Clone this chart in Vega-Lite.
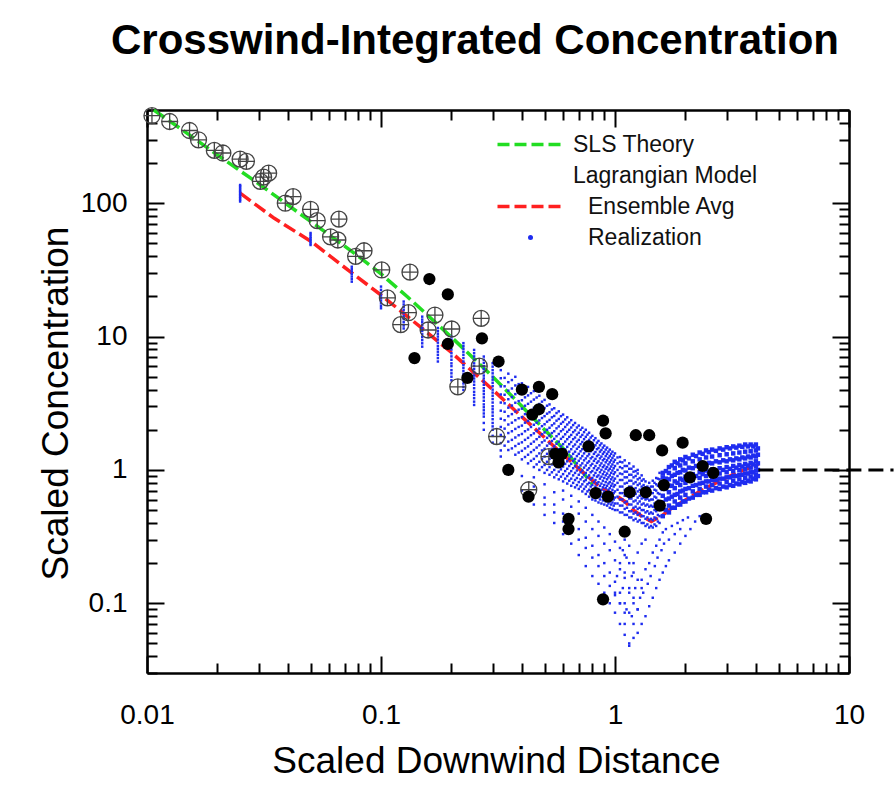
{
"$schema": "https://vega.github.io/schema/vega-lite/v6.json",
"width": 702, "height": 563,
"autosize": {"type": "none"},
"padding": {"left": 147, "top": 110, "right": 47, "bottom": 115},
"background": "white",
"title": {"text": "Crosswind-Integrated Concentration", "font": "Liberation Sans", "fontSize": 42, "fontWeight": "bold", "color": "#000", "anchor": "middle", "frame": "group", "dx": -23, "offset": 0, "baseline": "alphabetic"},
"config": {
 "view": {"stroke": null},
 "axis": {"labelFont": "Liberation Sans", "labelFontSize": 28, "labelColor": "#000", "domainColor": "#000", "domainWidth": 2.5, "tickColor": "#000", "tickWidth": 2, "grid": false, "titleFont": "Liberation Sans", "titleFontSize": 37, "titleFontWeight": "normal", "titleColor": "#000", "labelFlush": false, "labelOverlap": false}
},
"datasets": {
 "lines": [
  {"series":"SLS Theory","x":0.0107,"y":500},{"series":"SLS Theory","x":0.015,"y":330},{"series":"SLS Theory","x":0.02,"y":230},{"series":"SLS Theory","x":0.03,"y":140},{"series":"SLS Theory","x":0.04,"y":97},{"series":"SLS Theory","x":0.05,"y":73},{"series":"SLS Theory","x":0.06,"y":58},{"series":"SLS Theory","x":0.08,"y":40},{"series":"SLS Theory","x":0.1,"y":29.5},{"series":"SLS Theory","x":0.13,"y":19.8},{"series":"SLS Theory","x":0.16,"y":14.2},{"series":"SLS Theory","x":0.2,"y":9.9},{"series":"SLS Theory","x":0.25,"y":6.8},{"series":"SLS Theory","x":0.3,"y":5.0},{"series":"SLS Theory","x":0.4,"y":3.0},{"series":"SLS Theory","x":0.5,"y":2.0},{"series":"SLS Theory","x":0.6,"y":1.45},{"series":"SLS Theory","x":0.7,"y":1.05},{"series":"SLS Theory","x":0.8,"y":0.78},
  {"series":"Ensemble Avg","x":0.025,"y":119},{"series":"Ensemble Avg","x":0.035,"y":77},{"series":"Ensemble Avg","x":0.05,"y":52},{"series":"Ensemble Avg","x":0.075,"y":30},{"series":"Ensemble Avg","x":0.1,"y":20.5},{"series":"Ensemble Avg","x":0.15,"y":11.5},{"series":"Ensemble Avg","x":0.2,"y":7.6},{"series":"Ensemble Avg","x":0.3,"y":4.0},{"series":"Ensemble Avg","x":0.4,"y":2.5},{"series":"Ensemble Avg","x":0.5,"y":1.75},{"series":"Ensemble Avg","x":0.57,"y":1.41},{"series":"Ensemble Avg","x":0.65,"y":1.15},{"series":"Ensemble Avg","x":0.75,"y":0.92},{"series":"Ensemble Avg","x":0.85,"y":0.76},{"series":"Ensemble Avg","x":0.9,"y":0.71},{"series":"Ensemble Avg","x":1.0,"y":0.65},{"series":"Ensemble Avg","x":1.1,"y":0.58},{"series":"Ensemble Avg","x":1.2,"y":0.5},{"series":"Ensemble Avg","x":1.3,"y":0.45},{"series":"Ensemble Avg","x":1.43,"y":0.41},{"series":"Ensemble Avg","x":1.5,"y":0.43},{"series":"Ensemble Avg","x":1.58,"y":0.45},{"series":"Ensemble Avg","x":1.7,"y":0.5},{"series":"Ensemble Avg","x":1.86,"y":0.55},{"series":"Ensemble Avg","x":2.2,"y":0.66},{"series":"Ensemble Avg","x":2.7,"y":0.8},{"series":"Ensemble Avg","x":3.3,"y":0.95},{"series":"Ensemble Avg","x":4.1,"y":1.1}
 ],
 "ref": [{"x":4.1,"y":1},{"x":15.5,"y":1}],
 "real": [
  {"x":0.025,"y":103},{"x":0.025,"y":106},{"x":0.025,"y":109},{"x":0.025,"y":112},{"x":0.025,"y":115},{"x":0.025,"y":118},{"x":0.025,"y":121},{"x":0.025,"y":124},{"x":0.025,"y":127},{"x":0.025,"y":131},{"x":0.025,"y":134},{"x":0.025,"y":137},
  {"x":0.05,"y":48.6},{"x":0.05,"y":50},{"x":0.05,"y":51.5},{"x":0.05,"y":53},{"x":0.05,"y":54.5},{"x":0.05,"y":56},{"x":0.05,"y":58},{"x":0.05,"y":59.8},
  {"x":0.075,"y":25.8},{"x":0.075,"y":27},{"x":0.075,"y":28.2},{"x":0.075,"y":29.5},{"x":0.075,"y":30.8},{"x":0.075,"y":32},{"x":0.075,"y":33.4},
  {"x":0.1,"y":16.3},{"x":0.1,"y":17},{"x":0.1,"y":17.8},{"x":0.1,"y":18.6},{"x":0.1,"y":19.4},{"x":0.1,"y":20.3},{"x":0.1,"y":21.2},{"x":0.1,"y":22.4},{"x":0.1,"y":23.7},
  {"x":0.125,"y":11.5},{"x":0.125,"y":12.1},{"x":0.125,"y":12.8},{"x":0.125,"y":13.5},{"x":0.125,"y":14.2},{"x":0.125,"y":15},{"x":0.125,"y":15.8},{"x":0.125,"y":16.6},{"x":0.125,"y":17.4},{"x":0.125,"y":18.3},
  {"x":0.15,"y":8.4},{"x":0.15,"y":8.9},{"x":0.15,"y":9.4},{"x":0.15,"y":9.9},{"x":0.15,"y":10.4},{"x":0.15,"y":11},{"x":0.15,"y":11.6},{"x":0.15,"y":12.2},{"x":0.15,"y":12.8},{"x":0.15,"y":13.4},{"x":0.15,"y":14.1},
  {"x":0.175,"y":6.5},{"x":0.175,"y":6.9},{"x":0.175,"y":7.3},{"x":0.175,"y":7.7},{"x":0.175,"y":8.1},{"x":0.175,"y":8.5},{"x":0.175,"y":9},{"x":0.175,"y":9.5},{"x":0.175,"y":10},{"x":0.175,"y":10.5},{"x":0.175,"y":11},{"x":0.175,"y":11.6},
  {"x":0.2,"y":4.7},{"x":0.2,"y":5},{"x":0.2,"y":5.3},{"x":0.2,"y":5.6},{"x":0.2,"y":6},{"x":0.2,"y":6.3},{"x":0.2,"y":6.7},{"x":0.2,"y":7.1},{"x":0.2,"y":7.5},{"x":0.2,"y":8},{"x":0.2,"y":8.5},{"x":0.2,"y":9},{"x":0.2,"y":9.5},{"x":0.2,"y":10},
  {"x":0.225,"y":3.98},{"x":0.225,"y":4.2},{"x":0.225,"y":4.45},{"x":0.225,"y":4.7},{"x":0.225,"y":4.95},{"x":0.225,"y":5.2},{"x":0.225,"y":5.5},{"x":0.225,"y":5.8},{"x":0.225,"y":6.1},{"x":0.225,"y":6.5},{"x":0.225,"y":6.9},{"x":0.225,"y":7.3},{"x":0.225,"y":7.7},{"x":0.225,"y":8.1},{"x":0.225,"y":8.5},{"x":0.225,"y":8.93},
  {"x":0.25,"y":3.07},{"x":0.25,"y":3.25},{"x":0.25,"y":3.45},{"x":0.25,"y":3.65},{"x":0.25,"y":3.85},{"x":0.25,"y":4.1},{"x":0.25,"y":4.35},{"x":0.25,"y":4.6},{"x":0.25,"y":4.85},{"x":0.25,"y":5.1},{"x":0.25,"y":5.4},{"x":0.25,"y":5.7},{"x":0.25,"y":6},{"x":0.25,"y":6.3},{"x":0.25,"y":6.7},{"x":0.25,"y":7.1},{"x":0.25,"y":7.5},{"x":0.25,"y":7.94},
  {"x":0.275,"y":2},{"x":0.275,"y":2.25},{"x":0.275,"y":2.51},{"x":0.275,"y":2.65},{"x":0.275,"y":2.8},{"x":0.275,"y":2.95},{"x":0.275,"y":3.1},{"x":0.275,"y":3.3},{"x":0.275,"y":3.5},{"x":0.275,"y":3.7},{"x":0.275,"y":3.9},{"x":0.275,"y":4.1},{"x":0.275,"y":4.35},{"x":0.275,"y":4.6},{"x":0.275,"y":4.85},{"x":0.275,"y":5.1},{"x":0.275,"y":5.4},{"x":0.275,"y":5.7},{"x":0.275,"y":6},{"x":0.275,"y":6.35},{"x":0.275,"y":6.7},{"x":0.275,"y":7.08},
  {"x":0.3,"y":1.6},{"x":0.3,"y":1.8},{"x":0.3,"y":2},{"x":0.3,"y":2.12},{"x":0.3,"y":2.25},{"x":0.3,"y":2.4},{"x":0.3,"y":2.55},{"x":0.3,"y":2.7},{"x":0.3,"y":2.85},{"x":0.3,"y":3},{"x":0.3,"y":3.2},{"x":0.3,"y":3.4},{"x":0.3,"y":3.6},{"x":0.3,"y":3.8},{"x":0.3,"y":4},{"x":0.3,"y":4.25},{"x":0.3,"y":4.5},{"x":0.3,"y":4.75},{"x":0.3,"y":5},{"x":0.3,"y":5.3},{"x":0.3,"y":5.6},{"x":0.3,"y":5.95},{"x":0.3,"y":6.31},
  {"x":0.325,"y":1.26},{"x":0.325,"y":1.4},{"x":0.325,"y":1.59},{"x":0.325,"y":1.83},{"x":0.325,"y":2.1},{"x":0.325,"y":2.42},{"x":0.325,"y":2.78},{"x":0.325,"y":3.2},{"x":0.325,"y":3.68},{"x":0.325,"y":4.23},{"x":0.325,"y":4.87},{"x":0.325,"y":5.6},
  {"x":0.3375,"y":1.52},{"x":0.3375,"y":1.76},{"x":0.3375,"y":2.04},{"x":0.3375,"y":2.36},{"x":0.3375,"y":2.73},{"x":0.3375,"y":3.16},{"x":0.3375,"y":3.66},{"x":0.3375,"y":4.24},{"x":0.3375,"y":4.9},
  {"x":0.35,"y":1.41},{"x":0.35,"y":1.63},{"x":0.35,"y":1.89},{"x":0.35,"y":2.19},{"x":0.35,"y":2.53},{"x":0.35,"y":2.93},{"x":0.35,"y":3.39},{"x":0.35,"y":3.93},{"x":0.35,"y":4.55},{"x":0.35,"y":5.27},
  {"x":0.3625,"y":1.45},{"x":0.3625,"y":1.68},{"x":0.3625,"y":1.95},{"x":0.3625,"y":2.26},{"x":0.3625,"y":2.62},{"x":0.3625,"y":3.04},{"x":0.3625,"y":3.52},{"x":0.3625,"y":4.08},{"x":0.3625,"y":4.72},
  {"x":0.375,"y":1.3},{"x":0.375,"y":1.51},{"x":0.375,"y":1.75},{"x":0.375,"y":2.03},{"x":0.375,"y":2.36},{"x":0.375,"y":2.74},{"x":0.375,"y":3.19},{"x":0.375,"y":3.7},{"x":0.375,"y":4.3},{"x":0.375,"y":4.99},
  {"x":0.3875,"y":1.35},{"x":0.3875,"y":1.57},{"x":0.3875,"y":1.82},{"x":0.3875,"y":2.1},{"x":0.3875,"y":2.44},{"x":0.3875,"y":2.83},{"x":0.3875,"y":3.28},{"x":0.3875,"y":3.8},{"x":0.3875,"y":4.4},
  {"x":0.4,"y":1.2},{"x":0.4,"y":1.39},{"x":0.4,"y":1.61},{"x":0.4,"y":1.86},{"x":0.4,"y":2.15},{"x":0.4,"y":2.49},{"x":0.4,"y":2.88},{"x":0.4,"y":3.33},{"x":0.4,"y":3.85},{"x":0.4,"y":4.46},
  {"x":0.4125,"y":1.25},{"x":0.4125,"y":1.45},{"x":0.4125,"y":1.68},{"x":0.4125,"y":1.95},{"x":0.4125,"y":2.26},{"x":0.4125,"y":2.62},{"x":0.4125,"y":3.03},{"x":0.4125,"y":3.5},{"x":0.4125,"y":4.05},
  {"x":0.425,"y":1.12},{"x":0.425,"y":1.3},{"x":0.425,"y":1.5},{"x":0.425,"y":1.74},{"x":0.425,"y":2.01},{"x":0.425,"y":2.33},{"x":0.425,"y":2.7},{"x":0.425,"y":3.13},{"x":0.425,"y":3.62},{"x":0.425,"y":4.19},
  {"x":0.4375,"y":1.17},{"x":0.4375,"y":1.36},{"x":0.4375,"y":1.57},{"x":0.4375,"y":1.82},{"x":0.4375,"y":2.1},{"x":0.4375,"y":2.43},{"x":0.4375,"y":2.81},{"x":0.4375,"y":3.25},{"x":0.4375,"y":3.76},
  {"x":0.45,"y":1.05},{"x":0.45,"y":1.21},{"x":0.45,"y":1.41},{"x":0.45,"y":1.63},{"x":0.45,"y":1.88},{"x":0.45,"y":2.18},{"x":0.45,"y":2.52},{"x":0.45,"y":2.92},{"x":0.45,"y":3.37},{"x":0.45,"y":3.9},
  {"x":0.4625,"y":1.1},{"x":0.4625,"y":1.27},{"x":0.4625,"y":1.47},{"x":0.4625,"y":1.7},{"x":0.4625,"y":1.96},{"x":0.4625,"y":2.26},{"x":0.4625,"y":2.61},{"x":0.4625,"y":3.02},{"x":0.4625,"y":3.49},
  {"x":0.475,"y":1},{"x":0.475,"y":1.15},{"x":0.475,"y":1.33},{"x":0.475,"y":1.53},{"x":0.475,"y":1.77},{"x":0.475,"y":2.04},{"x":0.475,"y":2.35},{"x":0.475,"y":2.71},{"x":0.475,"y":3.12},{"x":0.475,"y":3.6},
  {"x":0.4875,"y":1.05},{"x":0.4875,"y":1.21},{"x":0.4875,"y":1.4},{"x":0.4875,"y":1.61},{"x":0.4875,"y":1.85},{"x":0.4875,"y":2.13},{"x":0.4875,"y":2.45},{"x":0.4875,"y":2.82},{"x":0.4875,"y":3.25},
  {"x":0.5,"y":0.95},{"x":0.5,"y":1.09},{"x":0.5,"y":1.26},{"x":0.5,"y":1.44},{"x":0.5,"y":1.66},{"x":0.5,"y":1.91},{"x":0.5,"y":2.2},{"x":0.5,"y":2.53},{"x":0.5,"y":2.91},{"x":0.5,"y":3.35},
  {"x":0.5125,"y":1.0},{"x":0.5125,"y":1.15},{"x":0.5125,"y":1.32},{"x":0.5125,"y":1.52},{"x":0.5125,"y":1.74},{"x":0.5125,"y":2.0},{"x":0.5125,"y":2.3},{"x":0.5125,"y":2.64},{"x":0.5125,"y":3.03},
  {"x":0.525,"y":0.92},{"x":0.525,"y":1.05},{"x":0.525,"y":1.21},{"x":0.525,"y":1.38},{"x":0.525,"y":1.58},{"x":0.525,"y":1.81},{"x":0.525,"y":2.07},{"x":0.525,"y":2.37},{"x":0.525,"y":2.71},{"x":0.525,"y":3.1},
  {"x":0.5375,"y":0.96},{"x":0.5375,"y":1.1},{"x":0.5375,"y":1.26},{"x":0.5375,"y":1.44},{"x":0.5375,"y":1.65},{"x":0.5375,"y":1.89},{"x":0.5375,"y":2.16},{"x":0.5375,"y":2.48},{"x":0.5375,"y":2.84},
  {"x":0.55,"y":0.88},{"x":0.55,"y":1},{"x":0.55,"y":1.15},{"x":0.55,"y":1.31},{"x":0.55,"y":1.5},{"x":0.55,"y":1.71},{"x":0.55,"y":1.95},{"x":0.55,"y":2.23},{"x":0.55,"y":2.54},{"x":0.55,"y":2.9},
  {"x":0.5625,"y":0.92},{"x":0.5625,"y":1.05},{"x":0.5625,"y":1.2},{"x":0.5625,"y":1.37},{"x":0.5625,"y":1.57},{"x":0.5625,"y":1.79},{"x":0.5625,"y":2.05},{"x":0.5625,"y":2.34},{"x":0.5625,"y":2.67},
  {"x":0.575,"y":0.85},{"x":0.575,"y":0.97},{"x":0.575,"y":1.1},{"x":0.575,"y":1.26},{"x":0.575,"y":1.43},{"x":0.575,"y":1.63},{"x":0.575,"y":1.86},{"x":0.575,"y":2.12},{"x":0.575,"y":2.41},{"x":0.575,"y":2.75},
  {"x":0.5875,"y":0.89},{"x":0.5875,"y":1.01},{"x":0.5875,"y":1.15},{"x":0.5875,"y":1.31},{"x":0.5875,"y":1.5},{"x":0.5875,"y":1.71},{"x":0.5875,"y":1.95},{"x":0.5875,"y":2.22},{"x":0.5875,"y":2.53},
  {"x":0.6,"y":0.82},{"x":0.6,"y":0.93},{"x":0.6,"y":1.06},{"x":0.6,"y":1.21},{"x":0.6,"y":1.37},{"x":0.6,"y":1.56},{"x":0.6,"y":1.77},{"x":0.6,"y":2.01},{"x":0.6,"y":2.29},{"x":0.6,"y":2.6},
  {"x":0.6125,"y":0.86},{"x":0.6125,"y":0.98},{"x":0.6125,"y":1.11},{"x":0.6125,"y":1.26},{"x":0.6125,"y":1.43},{"x":0.6125,"y":1.63},{"x":0.6125,"y":1.85},{"x":0.6125,"y":2.1},{"x":0.6125,"y":2.39},
  {"x":0.625,"y":0.79},{"x":0.625,"y":0.9},{"x":0.625,"y":1.02},{"x":0.625,"y":1.16},{"x":0.625,"y":1.31},{"x":0.625,"y":1.49},{"x":0.625,"y":1.7},{"x":0.625,"y":1.93},{"x":0.625,"y":2.19},{"x":0.625,"y":2.48},
  {"x":0.6375,"y":0.83},{"x":0.6375,"y":0.94},{"x":0.6375,"y":1.07},{"x":0.6375,"y":1.21},{"x":0.6375,"y":1.37},{"x":0.6375,"y":1.56},{"x":0.6375,"y":1.77},{"x":0.6375,"y":2.0},{"x":0.6375,"y":2.27},
  {"x":0.65,"y":0.76},{"x":0.65,"y":0.86},{"x":0.65,"y":0.98},{"x":0.65,"y":1.11},{"x":0.65,"y":1.26},{"x":0.65,"y":1.43},{"x":0.65,"y":1.62},{"x":0.65,"y":1.83},{"x":0.65,"y":2.08},{"x":0.65,"y":2.36},
  {"x":0.6625,"y":0.8},{"x":0.6625,"y":0.91},{"x":0.6625,"y":1.03},{"x":0.6625,"y":1.17},{"x":0.6625,"y":1.32},{"x":0.6625,"y":1.5},{"x":0.6625,"y":1.7},{"x":0.6625,"y":1.92},{"x":0.6625,"y":2.17},
  {"x":0.675,"y":0.74},{"x":0.675,"y":0.84},{"x":0.675,"y":0.95},{"x":0.675,"y":1.07},{"x":0.675,"y":1.21},{"x":0.675,"y":1.37},{"x":0.675,"y":1.55},{"x":0.675,"y":1.75},{"x":0.675,"y":1.98},{"x":0.675,"y":2.25},
  {"x":0.6875,"y":0.77},{"x":0.6875,"y":0.87},{"x":0.6875,"y":0.99},{"x":0.6875,"y":1.12},{"x":0.6875,"y":1.27},{"x":0.6875,"y":1.44},{"x":0.6875,"y":1.63},{"x":0.6875,"y":1.84},{"x":0.6875,"y":2.08},
  {"x":0.7,"y":0.72},{"x":0.7,"y":0.81},{"x":0.7,"y":0.92},{"x":0.7,"y":1.04},{"x":0.7,"y":1.17},{"x":0.7,"y":1.32},{"x":0.7,"y":1.49},{"x":0.7,"y":1.68},{"x":0.7,"y":1.9},{"x":0.7,"y":2.15},
  {"x":0.7125,"y":0.75},{"x":0.7125,"y":0.85},{"x":0.7125,"y":0.96},{"x":0.7125,"y":1.08},{"x":0.7125,"y":1.22},{"x":0.7125,"y":1.38},{"x":0.7125,"y":1.56},{"x":0.7125,"y":1.77},{"x":0.7125,"y":2.0},
  {"x":0.725,"y":0.69},{"x":0.725,"y":0.78},{"x":0.725,"y":0.88},{"x":0.725,"y":0.99},{"x":0.725,"y":1.12},{"x":0.725,"y":1.27},{"x":0.725,"y":1.43},{"x":0.725,"y":1.62},{"x":0.725,"y":1.83},{"x":0.725,"y":2.07},
  {"x":0.7375,"y":0.72},{"x":0.7375,"y":0.82},{"x":0.7375,"y":0.92},{"x":0.7375,"y":1.04},{"x":0.7375,"y":1.18},{"x":0.7375,"y":1.33},{"x":0.7375,"y":1.5},{"x":0.7375,"y":1.7},{"x":0.7375,"y":1.92},
  {"x":0.75,"y":0.66},{"x":0.75,"y":0.75},{"x":0.75,"y":0.84},{"x":0.75,"y":0.95},{"x":0.75,"y":1.08},{"x":0.75,"y":1.22},{"x":0.75,"y":1.38},{"x":0.75,"y":1.56},{"x":0.75,"y":1.77},{"x":0.75,"y":2},
  {"x":0.7625,"y":0.69},{"x":0.7625,"y":0.78},{"x":0.7625,"y":0.88},{"x":0.7625,"y":1.0},{"x":0.7625,"y":1.13},{"x":0.7625,"y":1.27},{"x":0.7625,"y":1.44},{"x":0.7625,"y":1.63},{"x":0.7625,"y":1.84},
  {"x":0.775,"y":0.63},{"x":0.775,"y":0.71},{"x":0.775,"y":0.8},{"x":0.775,"y":0.91},{"x":0.775,"y":1.03},{"x":0.775,"y":1.16},{"x":0.775,"y":1.31},{"x":0.775,"y":1.48},{"x":0.775,"y":1.68},{"x":0.775,"y":1.9},
  {"x":0.7875,"y":0.66},{"x":0.7875,"y":0.75},{"x":0.7875,"y":0.85},{"x":0.7875,"y":0.96},{"x":0.7875,"y":1.08},{"x":0.7875,"y":1.22},{"x":0.7875,"y":1.38},{"x":0.7875,"y":1.56},{"x":0.7875,"y":1.75},
  {"x":0.8,"y":0.6},{"x":0.8,"y":0.68},{"x":0.8,"y":0.77},{"x":0.8,"y":0.87},{"x":0.8,"y":0.98},{"x":0.8,"y":1.11},{"x":0.8,"y":1.25},{"x":0.8,"y":1.41},{"x":0.8,"y":1.59},{"x":0.8,"y":1.8},
  {"x":0.8125,"y":0.63},{"x":0.8125,"y":0.71},{"x":0.8125,"y":0.81},{"x":0.8125,"y":0.91},{"x":0.8125,"y":1.03},{"x":0.8125,"y":1.17},{"x":0.8125,"y":1.32},{"x":0.8125,"y":1.48},{"x":0.8125,"y":1.67},
  {"x":0.825,"y":0.59},{"x":0.825,"y":0.66},{"x":0.825,"y":0.75},{"x":0.825,"y":0.84},{"x":0.825,"y":0.95},{"x":0.825,"y":1.07},{"x":0.825,"y":1.21},{"x":0.825,"y":1.36},{"x":0.825,"y":1.53},{"x":0.825,"y":1.73},
  {"x":0.8375,"y":0.62},{"x":0.8375,"y":0.7},{"x":0.8375,"y":0.79},{"x":0.8375,"y":0.89},{"x":0.8375,"y":1.0},{"x":0.8375,"y":1.13},{"x":0.8375,"y":1.27},{"x":0.8375,"y":1.43},{"x":0.8375,"y":1.6},
  {"x":0.85,"y":0.57},{"x":0.85,"y":0.64},{"x":0.85,"y":0.72},{"x":0.85,"y":0.81},{"x":0.85,"y":0.91},{"x":0.85,"y":1.03},{"x":0.85,"y":1.16},{"x":0.85,"y":1.3},{"x":0.85,"y":1.46},{"x":0.85,"y":1.65},
  {"x":0.8625,"y":0.6},{"x":0.8625,"y":0.68},{"x":0.8625,"y":0.76},{"x":0.8625,"y":0.86},{"x":0.8625,"y":0.96},{"x":0.8625,"y":1.08},{"x":0.8625,"y":1.22},{"x":0.8625,"y":1.37},{"x":0.8625,"y":1.53},
  {"x":0.875,"y":0.56},{"x":0.875,"y":0.63},{"x":0.875,"y":0.71},{"x":0.875,"y":0.79},{"x":0.875,"y":0.89},{"x":0.875,"y":1},{"x":0.875,"y":1.12},{"x":0.875,"y":1.26},{"x":0.875,"y":1.41},{"x":0.875,"y":1.58},
  {"x":0.8875,"y":0.59},{"x":0.8875,"y":0.66},{"x":0.8875,"y":0.74},{"x":0.8875,"y":0.83},{"x":0.8875,"y":0.93},{"x":0.8875,"y":1.05},{"x":0.8875,"y":1.18},{"x":0.8875,"y":1.32},{"x":0.8875,"y":1.47},
  {"x":0.9,"y":0.55},{"x":0.9,"y":0.62},{"x":0.9,"y":0.69},{"x":0.9,"y":0.77},{"x":0.9,"y":0.87},{"x":0.9,"y":0.97},{"x":0.9,"y":1.08},{"x":0.9,"y":1.21},{"x":0.9,"y":1.36},{"x":0.9,"y":1.52},
  {"x":0.9125,"y":0.58},{"x":0.9125,"y":0.65},{"x":0.9125,"y":0.73},{"x":0.9125,"y":0.81},{"x":0.9125,"y":0.91},{"x":0.9125,"y":1.02},{"x":0.9125,"y":1.14},{"x":0.9125,"y":1.27},{"x":0.9125,"y":1.42},
  {"x":0.925,"y":0.54},{"x":0.925,"y":0.6},{"x":0.925,"y":0.68},{"x":0.925,"y":0.76},{"x":0.925,"y":0.85},{"x":0.925,"y":0.94},{"x":0.925,"y":1.05},{"x":0.925,"y":1.18},{"x":0.925,"y":1.32},{"x":0.925,"y":1.47},
  {"x":0.9375,"y":0.56},{"x":0.9375,"y":0.63},{"x":0.9375,"y":0.71},{"x":0.9375,"y":0.79},{"x":0.9375,"y":0.88},{"x":0.9375,"y":0.99},{"x":0.9375,"y":1.1},{"x":0.9375,"y":1.23},{"x":0.9375,"y":1.37},
  {"x":0.95,"y":0.52},{"x":0.95,"y":0.58},{"x":0.95,"y":0.65},{"x":0.95,"y":0.73},{"x":0.95,"y":0.81},{"x":0.95,"y":0.91},{"x":0.95,"y":1.02},{"x":0.95,"y":1.14},{"x":0.95,"y":1.27},{"x":0.95,"y":1.42},
  {"x":0.9625,"y":0.55},{"x":0.9625,"y":0.61},{"x":0.9625,"y":0.68},{"x":0.9625,"y":0.76},{"x":0.9625,"y":0.85},{"x":0.9625,"y":0.95},{"x":0.9625,"y":1.06},{"x":0.9625,"y":1.18},{"x":0.9625,"y":1.32},
  {"x":0.975,"y":0.51},{"x":0.975,"y":0.57},{"x":0.975,"y":0.64},{"x":0.975,"y":0.71},{"x":0.975,"y":0.79},{"x":0.975,"y":0.88},{"x":0.975,"y":0.99},{"x":0.975,"y":1.1},{"x":0.975,"y":1.23},{"x":0.975,"y":1.37},
  {"x":0.9875,"y":0.54},{"x":0.9875,"y":0.6},{"x":0.9875,"y":0.67},{"x":0.9875,"y":0.75},{"x":0.9875,"y":0.83},{"x":0.9875,"y":0.93},{"x":0.9875,"y":1.03},{"x":0.9875,"y":1.15},{"x":0.9875,"y":1.28},
  {"x":1,"y":0.5},{"x":1,"y":0.56},{"x":1,"y":0.62},{"x":1,"y":0.69},{"x":1,"y":0.77},{"x":1,"y":0.86},{"x":1,"y":0.96},{"x":1,"y":1.07},{"x":1,"y":1.19},{"x":1,"y":1.33},
  {"x":1.025,"y":0.5},{"x":1.025,"y":0.56},{"x":1.025,"y":0.63},{"x":1.025,"y":0.71},{"x":1.025,"y":0.8},{"x":1.025,"y":0.9},{"x":1.025,"y":1.0},{"x":1.025,"y":1.12},{"x":1.025,"y":1.24},
  {"x":1.05,"y":0.48},{"x":1.05,"y":0.54},{"x":1.05,"y":0.6},{"x":1.05,"y":0.67},{"x":1.05,"y":0.75},{"x":1.05,"y":0.84},{"x":1.05,"y":0.94},{"x":1.05,"y":1.05},{"x":1.05,"y":1.15},{"x":1.05,"y":1.25},
  {"x":1.075,"y":0.48},{"x":1.075,"y":0.54},{"x":1.075,"y":0.6},{"x":1.075,"y":0.67},{"x":1.075,"y":0.75},{"x":1.075,"y":0.84},{"x":1.075,"y":0.93},{"x":1.075,"y":1.03},{"x":1.075,"y":1.14},
  {"x":1.1,"y":0.46},{"x":1.1,"y":0.51},{"x":1.1,"y":0.57},{"x":1.1,"y":0.64},{"x":1.1,"y":0.71},{"x":1.1,"y":0.79},{"x":1.1,"y":0.88},{"x":1.1,"y":0.97},{"x":1.1,"y":1.07},{"x":1.1,"y":1.18},
  {"x":1.125,"y":0.46},{"x":1.125,"y":0.52},{"x":1.125,"y":0.58},{"x":1.125,"y":0.65},{"x":1.125,"y":0.72},{"x":1.125,"y":0.8},{"x":1.125,"y":0.88},{"x":1.125,"y":0.97},{"x":1.125,"y":1.07},
  {"x":1.15,"y":0.44},{"x":1.15,"y":0.49},{"x":1.15,"y":0.55},{"x":1.15,"y":0.61},{"x":1.15,"y":0.68},{"x":1.15,"y":0.75},{"x":1.15,"y":0.83},{"x":1.15,"y":0.92},{"x":1.15,"y":1.02},{"x":1.15,"y":1.12},
  {"x":1.175,"y":0.44},{"x":1.175,"y":0.49},{"x":1.175,"y":0.55},{"x":1.175,"y":0.61},{"x":1.175,"y":0.68},{"x":1.175,"y":0.75},{"x":1.175,"y":0.83},{"x":1.175,"y":0.92},{"x":1.175,"y":1.02},
  {"x":1.2,"y":0.42},{"x":1.2,"y":0.47},{"x":1.2,"y":0.52},{"x":1.2,"y":0.58},{"x":1.2,"y":0.64},{"x":1.2,"y":0.71},{"x":1.2,"y":0.79},{"x":1.2,"y":0.88},{"x":1.2,"y":0.97},{"x":1.2,"y":1.06},
  {"x":1.225,"y":0.43},{"x":1.225,"y":0.48},{"x":1.225,"y":0.53},{"x":1.225,"y":0.59},{"x":1.225,"y":0.66},{"x":1.225,"y":0.73},{"x":1.225,"y":0.81},{"x":1.225,"y":0.9},{"x":1.225,"y":0.98},
  {"x":1.25,"y":0.41},{"x":1.25,"y":0.46},{"x":1.25,"y":0.51},{"x":1.25,"y":0.56},{"x":1.25,"y":0.62},{"x":1.25,"y":0.69},{"x":1.25,"y":0.77},{"x":1.25,"y":0.85},{"x":1.25,"y":0.94},{"x":1.25,"y":1},
  {"x":1.275,"y":0.42},{"x":1.275,"y":0.47},{"x":1.275,"y":0.52},{"x":1.275,"y":0.58},{"x":1.275,"y":0.64},{"x":1.275,"y":0.71},{"x":1.275,"y":0.79},{"x":1.275,"y":0.87},
  {"x":1.3,"y":0.4},{"x":1.3,"y":0.45},{"x":1.3,"y":0.5},{"x":1.3,"y":0.55},{"x":1.3,"y":0.61},{"x":1.3,"y":0.68},{"x":1.3,"y":0.75},{"x":1.3,"y":0.83},{"x":1.3,"y":0.91},
  {"x":1.325,"y":0.4},{"x":1.325,"y":0.45},{"x":1.325,"y":0.5},{"x":1.325,"y":0.56},{"x":1.325,"y":0.62},{"x":1.325,"y":0.69},{"x":1.325,"y":0.77},{"x":1.325,"y":0.85},
  {"x":1.35,"y":0.38},{"x":1.35,"y":0.43},{"x":1.35,"y":0.48},{"x":1.35,"y":0.54},{"x":1.35,"y":0.6},{"x":1.35,"y":0.67},{"x":1.35,"y":0.74},{"x":1.35,"y":0.82},
  {"x":1.375,"y":0.39},{"x":1.375,"y":0.44},{"x":1.375,"y":0.49},{"x":1.375,"y":0.55},{"x":1.375,"y":0.61},{"x":1.375,"y":0.68},{"x":1.375,"y":0.75},
  {"x":1.4,"y":0.37},{"x":1.4,"y":0.42},{"x":1.4,"y":0.47},{"x":1.4,"y":0.53},{"x":1.4,"y":0.59},{"x":1.4,"y":0.66},{"x":1.4,"y":0.73},{"x":1.4,"y":0.8},
  {"x":1.425,"y":0.38},{"x":1.425,"y":0.43},{"x":1.425,"y":0.48},{"x":1.425,"y":0.54},{"x":1.425,"y":0.6},{"x":1.425,"y":0.67},{"x":1.425,"y":0.75},
  {"x":1.45,"y":0.37},{"x":1.45,"y":0.42},{"x":1.45,"y":0.47},{"x":1.45,"y":0.53},{"x":1.45,"y":0.6},{"x":1.45,"y":0.67},{"x":1.45,"y":0.75},{"x":1.45,"y":0.83},
  {"x":1.475,"y":0.39},{"x":1.475,"y":0.44},{"x":1.475,"y":0.5},{"x":1.475,"y":0.56},{"x":1.475,"y":0.63},{"x":1.475,"y":0.71},{"x":1.475,"y":0.8},
  {"x":1.5,"y":0.38},{"x":1.5,"y":0.43},{"x":1.5,"y":0.49},{"x":1.5,"y":0.55},{"x":1.5,"y":0.62},{"x":1.5,"y":0.7},{"x":1.5,"y":0.78},{"x":1.5,"y":0.87},
  {"x":1.525,"y":0.41},{"x":1.525,"y":0.46},{"x":1.525,"y":0.52},{"x":1.525,"y":0.59},{"x":1.525,"y":0.67},{"x":1.525,"y":0.76},{"x":1.525,"y":0.86},
  {"x":1.55,"y":0.4},{"x":1.55,"y":0.45},{"x":1.55,"y":0.51},{"x":1.55,"y":0.58},{"x":1.55,"y":0.66},{"x":1.55,"y":0.75},{"x":1.55,"y":0.85},{"x":1.55,"y":0.95},
  {"x":0.35,"y":0.95},{"x":0.4,"y":0.7},{"x":0.45,"y":0.55},{"x":0.5,"y":0.46},{"x":0.55,"y":0.4},{"x":0.6,"y":0.33},{"x":0.65,"y":0.28},{"x":0.7,"y":0.23},{"x":0.75,"y":0.19},{"x":0.8,"y":0.16},{"x":0.85,"y":0.14},{"x":0.9,"y":0.12},{"x":0.95,"y":0.1},{"x":1.0,"y":0.085},{"x":1.05,"y":0.07},{"x":1.1,"y":0.058},{"x":1.15,"y":0.048},
  {"x":0.4,"y":0.9},{"x":0.45,"y":0.75},{"x":0.5,"y":0.62},{"x":0.55,"y":0.55},{"x":0.6,"y":0.47},{"x":0.65,"y":0.42},{"x":0.7,"y":0.36},{"x":0.75,"y":0.31},{"x":0.8,"y":0.27},{"x":0.85,"y":0.23},{"x":0.9,"y":0.2},{"x":0.95,"y":0.17},{"x":1.0,"y":0.145},{"x":1.05,"y":0.12},{"x":1.1,"y":0.1},{"x":1.15,"y":0.085},{"x":1.2,"y":0.07},
  {"x":0.45,"y":0.88},{"x":0.5,"y":0.78},{"x":0.55,"y":0.68},{"x":0.6,"y":0.6},{"x":0.65,"y":0.53},{"x":0.7,"y":0.47},{"x":0.75,"y":0.41},{"x":0.8,"y":0.36},{"x":0.85,"y":0.32},{"x":0.9,"y":0.28},{"x":0.95,"y":0.25},{"x":1.0,"y":0.21},{"x":1.05,"y":0.18},{"x":1.1,"y":0.155},{"x":1.15,"y":0.13},{"x":1.2,"y":0.11},{"x":1.25,"y":0.09},
  {"x":0.6,"y":0.7},{"x":0.65,"y":0.64},{"x":0.7,"y":0.58},{"x":0.75,"y":0.52},{"x":0.8,"y":0.46},{"x":0.85,"y":0.41},{"x":0.9,"y":0.37},{"x":0.95,"y":0.33},{"x":1.0,"y":0.29},{"x":1.05,"y":0.26},{"x":1.1,"y":0.23},{"x":1.15,"y":0.2},{"x":1.2,"y":0.17},{"x":1.25,"y":0.15},{"x":1.3,"y":0.13},
  {"x":0.5,"y":0.55},{"x":0.55,"y":0.48},{"x":0.6,"y":0.41},{"x":0.65,"y":0.36},{"x":0.7,"y":0.3},{"x":0.75,"y":0.26},{"x":0.8,"y":0.22},{"x":0.85,"y":0.19},{"x":0.9,"y":0.16},{"x":0.95,"y":0.135},{"x":1.0,"y":0.115},{"x":1.05,"y":0.1},{"x":1.1,"y":0.085},
  {"x":1.15,"y":0.05},{"x":1.2,"y":0.055},{"x":1.25,"y":0.06},{"x":1.3,"y":0.07},{"x":1.35,"y":0.08},{"x":1.4,"y":0.095},{"x":1.45,"y":0.11},{"x":1.5,"y":0.13},{"x":1.55,"y":0.15},{"x":1.6,"y":0.17},{"x":1.65,"y":0.19},{"x":1.7,"y":0.21},{"x":1.8,"y":0.24},{"x":1.9,"y":0.28},{"x":2.0,"y":0.32},{"x":2.1,"y":0.36},{"x":2.2,"y":0.41},{"x":2.3,"y":0.45},
  {"x":1.1,"y":0.07},{"x":1.12,"y":0.09},{"x":1.18,"y":0.08},{"x":1.2,"y":0.1},{"x":1.22,"y":0.13},{"x":1.25,"y":0.09},{"x":1.28,"y":0.11},{"x":1.3,"y":0.15},{"x":1.32,"y":0.12},{"x":1.35,"y":0.18},{"x":1.38,"y":0.14},{"x":1.4,"y":0.2},{"x":1.42,"y":0.16},{"x":1.45,"y":0.24},{"x":1.48,"y":0.19},{"x":1.5,"y":0.27},{"x":1.52,"y":0.22},{"x":1.55,"y":0.3},{"x":1.58,"y":0.25},{"x":1.6,"y":0.34},{"x":1.62,"y":0.28},{"x":1.65,"y":0.36},{"x":1.7,"y":0.3},{"x":1.75,"y":0.38},{"x":1.8,"y":0.33},{"x":1.85,"y":0.4},{"x":1.9,"y":0.36},{"x":1.95,"y":0.42},{"x":2.05,"y":0.44},{"x":1.15,"y":0.12},{"x":1.18,"y":0.16},{"x":1.2,"y":0.2},{"x":1.25,"y":0.24},{"x":1.3,"y":0.28},{"x":1.35,"y":0.3},{"x":1.05,"y":0.1},{"x":1.08,"y":0.13},{"x":1.1,"y":0.17},{"x":1.12,"y":0.22},{"x":1.15,"y":0.27},{"x":1.0,"y":0.12},{"x":1.02,"y":0.16},{"x":1.05,"y":0.2},{"x":1.08,"y":0.25},{"x":1.1,"y":0.3}
 ],
 "clus": [
  {"x":1.6,"y":0.45},{"x":1.6,"y":0.51},{"x":1.6,"y":0.57},{"x":1.6,"y":0.64},{"x":1.6,"y":0.72},{"x":1.6,"y":0.8},{"x":1.6,"y":0.88},{"x":1.6,"y":0.95},
  {"x":1.7,"y":0.48},{"x":1.7,"y":0.54},{"x":1.7,"y":0.61},{"x":1.7,"y":0.68},{"x":1.7,"y":0.76},{"x":1.7,"y":0.85},{"x":1.7,"y":0.95},{"x":1.7,"y":1.05},
  {"x":1.8,"y":0.52},{"x":1.8,"y":0.58},{"x":1.8,"y":0.65},{"x":1.8,"y":0.73},{"x":1.8,"y":0.82},{"x":1.8,"y":0.92},{"x":1.8,"y":1.03},{"x":1.8,"y":1.15},
  {"x":1.9,"y":0.55},{"x":1.9,"y":0.62},{"x":1.9,"y":0.69},{"x":1.9,"y":0.77},{"x":1.9,"y":0.86},{"x":1.9,"y":0.96},{"x":1.9,"y":1.08},{"x":1.9,"y":1.2},
  {"x":2.0,"y":0.58},{"x":2.0,"y":0.65},{"x":2.0,"y":0.72},{"x":2.0,"y":0.8},{"x":2.0,"y":0.89},{"x":2.0,"y":0.99},{"x":2.0,"y":1.12},{"x":2.0,"y":1.25},
  {"x":2.15,"y":0.62},{"x":2.15,"y":0.69},{"x":2.15,"y":0.76},{"x":2.15,"y":0.84},{"x":2.15,"y":0.93},{"x":2.15,"y":1.03},{"x":2.15,"y":1.16},{"x":2.15,"y":1.3},
  {"x":2.3,"y":0.65},{"x":2.3,"y":0.72},{"x":2.3,"y":0.79},{"x":2.3,"y":0.87},{"x":2.3,"y":0.96},{"x":2.3,"y":1.07},{"x":2.3,"y":1.2},{"x":2.3,"y":1.35},
  {"x":2.45,"y":0.68},{"x":2.45,"y":0.75},{"x":2.45,"y":0.82},{"x":2.45,"y":0.9},{"x":2.45,"y":0.99},{"x":2.45,"y":1.1},{"x":2.45,"y":1.24},{"x":2.45,"y":1.4},
  {"x":2.6,"y":0.7},{"x":2.6,"y":0.77},{"x":2.6,"y":0.84},{"x":2.6,"y":0.92},{"x":2.6,"y":1.01},{"x":2.6,"y":1.12},{"x":2.6,"y":1.26},{"x":2.6,"y":1.42},
  {"x":2.8,"y":0.72},{"x":2.8,"y":0.79},{"x":2.8,"y":0.86},{"x":2.8,"y":0.94},{"x":2.8,"y":1.03},{"x":2.8,"y":1.14},{"x":2.8,"y":1.29},{"x":2.8,"y":1.45},
  {"x":3.0,"y":0.74},{"x":3.0,"y":0.81},{"x":3.0,"y":0.88},{"x":3.0,"y":0.96},{"x":3.0,"y":1.05},{"x":3.0,"y":1.16},{"x":3.0,"y":1.31},{"x":3.0,"y":1.48},
  {"x":3.2,"y":0.76},{"x":3.2,"y":0.83},{"x":3.2,"y":0.9},{"x":3.2,"y":0.98},{"x":3.2,"y":1.07},{"x":3.2,"y":1.18},{"x":3.2,"y":1.33},{"x":3.2,"y":1.5},
  {"x":3.4,"y":0.78},{"x":3.4,"y":0.85},{"x":3.4,"y":0.92},{"x":3.4,"y":1.0},{"x":3.4,"y":1.09},{"x":3.4,"y":1.2},{"x":3.4,"y":1.35},{"x":3.4,"y":1.52},
  {"x":3.6,"y":0.8},{"x":3.6,"y":0.87},{"x":3.6,"y":0.94},{"x":3.6,"y":1.02},{"x":3.6,"y":1.11},{"x":3.6,"y":1.22},{"x":3.6,"y":1.37},{"x":3.6,"y":1.55},
  {"x":3.8,"y":0.82},{"x":3.8,"y":0.89},{"x":3.8,"y":0.96},{"x":3.8,"y":1.04},{"x":3.8,"y":1.13},{"x":3.8,"y":1.24},{"x":3.8,"y":1.38},{"x":3.8,"y":1.55},
  {"x":4.0,"y":0.85},{"x":4.0,"y":0.92},{"x":4.0,"y":0.99},{"x":4.0,"y":1.07},{"x":4.0,"y":1.16},{"x":4.0,"y":1.26},{"x":4.0,"y":1.4},{"x":4.0,"y":1.55},
  {"x":1.65,"y":0.5},{"x":1.65,"y":0.6},{"x":1.65,"y":0.72},{"x":1.65,"y":0.86},{"x":1.65,"y":0.98},
  {"x":1.75,"y":0.52},{"x":1.75,"y":0.63},{"x":1.75,"y":0.76},{"x":1.75,"y":0.9},{"x":1.75,"y":1.08},
  {"x":1.85,"y":0.55},{"x":1.85,"y":0.66},{"x":1.85,"y":0.8},{"x":1.85,"y":0.95},{"x":1.85,"y":1.12},
  {"x":1.95,"y":0.58},{"x":1.95,"y":0.7},{"x":1.95,"y":0.84},{"x":1.95,"y":1.0},{"x":1.95,"y":1.18},
  {"x":2.07,"y":0.61},{"x":2.07,"y":0.73},{"x":2.07,"y":0.87},{"x":2.07,"y":1.04},{"x":2.07,"y":1.22},
  {"x":2.22,"y":0.65},{"x":2.22,"y":0.77},{"x":2.22,"y":0.9},{"x":2.22,"y":1.07},{"x":2.22,"y":1.27},
  {"x":2.37,"y":0.68},{"x":2.37,"y":0.8},{"x":2.37,"y":0.93},{"x":2.37,"y":1.1},{"x":2.37,"y":1.32},
  {"x":2.52,"y":0.71},{"x":2.52,"y":0.82},{"x":2.52,"y":0.96},{"x":2.52,"y":1.13},{"x":2.52,"y":1.36},
  {"x":2.7,"y":0.73},{"x":2.7,"y":0.84},{"x":2.7,"y":0.98},{"x":2.7,"y":1.16},{"x":2.7,"y":1.39},
  {"x":2.9,"y":0.75},{"x":2.9,"y":0.86},{"x":2.9,"y":1.0},{"x":2.9,"y":1.18},{"x":2.9,"y":1.42},
  {"x":3.1,"y":0.77},{"x":3.1,"y":0.88},{"x":3.1,"y":1.02},{"x":3.1,"y":1.2},{"x":3.1,"y":1.45},
  {"x":3.3,"y":0.79},{"x":3.3,"y":0.9},{"x":3.3,"y":1.04},{"x":3.3,"y":1.22},{"x":3.3,"y":1.47},
  {"x":3.5,"y":0.81},{"x":3.5,"y":0.92},{"x":3.5,"y":1.06},{"x":3.5,"y":1.24},{"x":3.5,"y":1.49},
  {"x":3.7,"y":0.83},{"x":3.7,"y":0.94},{"x":3.7,"y":1.08},{"x":3.7,"y":1.26},{"x":3.7,"y":1.5},
  {"x":3.9,"y":0.86},{"x":3.9,"y":0.96},{"x":3.9,"y":1.1},{"x":3.9,"y":1.28},{"x":3.9,"y":1.5},
  {"x":4.08,"y":0.9},{"x":4.08,"y":1.0},{"x":4.08,"y":1.12},{"x":4.08,"y":1.3},{"x":4.08,"y":1.45}
 ],
 "open": [
  {"x":0.0105,"y":453},{"x":0.0125,"y":410},{"x":0.0152,"y":351},{"x":0.0166,"y":299},{"x":0.0194,"y":249},{"x":0.0211,"y":238},{"x":0.025,"y":214},{"x":0.0266,"y":206},{"x":0.0305,"y":146},{"x":0.0315,"y":157},{"x":0.0331,"y":168},{"x":0.039,"y":100},{"x":0.0421,"y":112},{"x":0.05,"y":90},{"x":0.0534,"y":74},{"x":0.0661,"y":76},{"x":0.0609,"y":56},{"x":0.0654,"y":53},{"x":0.0779,"y":40},{"x":0.0846,"y":44},{"x":0.1007,"y":31.6},{"x":0.133,"y":30.4},{"x":0.1065,"y":19.5},{"x":0.1214,"y":12.3},{"x":0.131,"y":15.1},{"x":0.17,"y":14.5},{"x":0.159,"y":11.2},{"x":0.2005,"y":11.4},{"x":0.268,"y":13.7},{"x":0.263,"y":6.0},{"x":0.213,"y":4.2},{"x":0.312,"y":1.78},{"x":0.522,"y":1.26},{"x":0.428,"y":0.71}
 ],
 "obs": [
  {"x":0.161,"y":27},{"x":0.193,"y":20.7},{"x":0.139,"y":6.9},{"x":0.193,"y":8.8},{"x":0.27,"y":9.7},{"x":0.234,"y":4.9},{"x":0.318,"y":6.5},{"x":0.35,"y":1.0},{"x":0.4,"y":4.0},{"x":0.473,"y":4.2},{"x":0.539,"y":3.7},{"x":0.443,"y":2.6},{"x":0.473,"y":2.85},{"x":0.427,"y":0.63},{"x":0.555,"y":1.32},{"x":0.574,"y":1.14},{"x":0.593,"y":1.32},{"x":0.633,"y":0.43},{"x":0.633,"y":0.36},{"x":0.771,"y":1.5},{"x":0.889,"y":2.34},{"x":0.912,"y":1.88},{"x":0.826,"y":0.67},{"x":0.933,"y":0.63},{"x":1.1,"y":0.344},{"x":0.889,"y":0.107},{"x":1.227,"y":1.82},{"x":1.4,"y":1.82},{"x":1.59,"y":1.4},{"x":1.945,"y":1.6},{"x":1.156,"y":0.68},{"x":1.354,"y":0.68},{"x":1.617,"y":0.77},{"x":1.554,"y":0.54},{"x":2.09,"y":0.88},{"x":2.37,"y":1.07},{"x":2.63,"y":0.95},{"x":2.45,"y":0.43}
 ]
},
"resolve": {"axis": {"x": "independent", "y": "independent"}},
"layer": [
 {
  "data": {"name": "lines"},
  "mark": {"type": "line", "strokeWidth": 3.5, "strokeDash": [13, 5]},
  "encoding": {
   "x": {"field": "x", "type": "quantitative", "scale": {"type": "log", "domain": [0.01, 10], "nice": false},
    "axis": {"orient": "bottom", "values": [0.01,0.02,0.03,0.04,0.05,0.06,0.07,0.08,0.09,0.1,0.2,0.3,0.4,0.5,0.6,0.7,0.8,0.9,1,2,3,4,5,6,7,8,9,10],
     "labelExpr": "datum.value == 0.01 ? '0.01' : datum.value == 0.1 ? '0.1' : datum.value == 1 ? '1' : datum.value == 10 ? '10' : ''",
     "tickSize": {"condition": {"test": "datum.value == 0.01 || datum.value == 0.1 || datum.value == 1 || datum.value == 10", "value": -17}, "value": -10},
     "labelPadding": 67, "labelBaseline": "alphabetic",
     "title": "Scaled Downwind Distance", "titleX": 349, "titleY": 99, "titleBaseline": "alphabetic", "titleAlign": "center"}},
   "y": {"field": "y", "type": "quantitative", "scale": {"type": "log", "domain": [0.03, 500], "nice": false},
    "axis": {"orient": "left", "values": [0.03,0.04,0.05,0.06,0.07,0.08,0.09,0.1,0.2,0.3,0.4,0.5,0.6,0.7,0.8,0.9,1,2,3,4,5,6,7,8,9,10,20,30,40,50,60,70,80,90,100,200,300,400,500],
     "labelExpr": "datum.value == 0.1 ? '0.1' : datum.value == 1 ? '1' : datum.value == 10 ? '10' : datum.value == 100 ? '100' : ''",
     "tickSize": {"condition": {"test": "datum.value == 0.1 || datum.value == 1 || datum.value == 10 || datum.value == 100", "value": -17}, "value": -10},
     "labelPadding": 37, "labelBaseline": "middle",
     "title": "Scaled Concentration", "titleX": -80, "titleY": 293, "titleAngle": -90, "titleBaseline": "alphabetic", "titleAlign": "center"}},
   "color": {"field": "series", "type": "nominal",
    "scale": {"domain": ["SLS Theory", "Lagrangian Model", "Ensemble Avg", "Realization"], "range": ["#22dd22", "#ffffff", "#ff2020", "#1e2cf0"]},
    "legend": {"orient": "none", "legendX": 372, "legendY": 23, "title": null, "padding": 0,
     "labelFont": "Liberation Sans", "labelFontSize": 23, "labelColor": "#111", "labelLimit": 0, "labelOffset": 31,
     "symbolType": "M-3,0L3,0", "symbolSize": 484, "symbolStrokeWidth": 3.5, "symbolDash": [12, 5],
     "rowPadding": 7,
     "encode": {
      "symbols": {"update": {
       "shape": {"signal": "datum.value === 'Realization' ? 'circle' : 'M-3,0L3,0'"},
       "size": {"signal": "datum.value === 'Realization' ? 25 : 484"},
       "fill": {"signal": "datum.value === 'Realization' ? '#1e2cf0' : 'transparent'"},
       "strokeDash": {"signal": "datum.value === 'Realization' ? [1, 0] : [12, 5]"},
       "strokeWidth": {"signal": "datum.value === 'Realization' ? 0 : 3.5"},
       "opacity": {"signal": "datum.value === 'Lagrangian Model' ? 0 : 1"}
      }},
      "labels": {"update": {"dx": {"signal": "datum.value === 'Ensemble Avg' || datum.value === 'Realization' ? 15 : 0"}}}
     }}}
  }
 },
 {
  "data": {"name": "real"},
  "mark": {"type": "point", "shape": "square", "filled": true, "size": 6, "color": "#1e2cf0", "opacity": 1},
  "encoding": {
   "x": {"field": "x", "type": "quantitative", "scale": {"type": "log", "domain": [0.01, 10], "nice": false}, "axis": null},
   "y": {"field": "y", "type": "quantitative", "scale": {"type": "log", "domain": [0.03, 500], "nice": false}, "axis": null}
  }
 },
 {
  "data": {"name": "clus"},
  "mark": {"type": "point", "shape": "square", "filled": true, "size": 20, "color": "#1e2cf0", "opacity": 1},
  "encoding": {
   "x": {"field": "x", "type": "quantitative", "scale": {"type": "log", "domain": [0.01, 10], "nice": false}, "axis": null},
   "y": {"field": "y", "type": "quantitative", "scale": {"type": "log", "domain": [0.03, 500], "nice": false}, "axis": null}
  }
 },
 {
  "data": {"name": "ref"},
  "mark": {"type": "line", "color": "#000", "strokeWidth": 3, "strokeDash": [15, 7]},
  "encoding": {
   "x": {"field": "x", "type": "quantitative", "scale": {"type": "log", "domain": [0.01, 10], "nice": false},
    "axis": {"orient": "top", "values": [0.01,0.02,0.03,0.04,0.05,0.06,0.07,0.08,0.09,0.1,0.2,0.3,0.4,0.5,0.6,0.7,0.8,0.9,1,2,3,4,5,6,7,8,9,10], "labels": false, "title": null,
     "tickSize": {"condition": {"test": "datum.value == 0.01 || datum.value == 0.1 || datum.value == 1 || datum.value == 10", "value": -17}, "value": -10}}},
   "y": {"field": "y", "type": "quantitative", "scale": {"type": "log", "domain": [0.03, 500], "nice": false},
    "axis": {"orient": "right", "values": [0.03,0.04,0.05,0.06,0.07,0.08,0.09,0.1,0.2,0.3,0.4,0.5,0.6,0.7,0.8,0.9,1,2,3,4,5,6,7,8,9,10,20,30,40,50,60,70,80,90,100,200,300,400,500], "labels": false, "title": null,
     "tickSize": {"condition": {"test": "datum.value == 0.1 || datum.value == 1 || datum.value == 10 || datum.value == 100", "value": -17}, "value": -10}}}
  }
 },
 {
  "data": {"name": "open"},
  "mark": {"type": "point", "shape": "M-1,0A1,1,0,1,0,1,0A1,1,0,1,0,-1,0ZM-1,0L1,0M0,-1L0,1", "filled": false, "size": 256, "stroke": "#444", "strokeWidth": 1.3, "opacity": 1},
  "encoding": {
   "x": {"field": "x", "type": "quantitative", "scale": {"type": "log", "domain": [0.01, 10], "nice": false}, "axis": null},
   "y": {"field": "y", "type": "quantitative", "scale": {"type": "log", "domain": [0.03, 500], "nice": false}, "axis": null}
  }
 },
 {
  "data": {"name": "obs"},
  "mark": {"type": "point", "shape": "circle", "filled": true, "size": 150, "color": "#000", "opacity": 1},
  "encoding": {
   "x": {"field": "x", "type": "quantitative", "scale": {"type": "log", "domain": [0.01, 10], "nice": false}, "axis": null},
   "y": {"field": "y", "type": "quantitative", "scale": {"type": "log", "domain": [0.03, 500], "nice": false}, "axis": null}
  }
 }
]
}
